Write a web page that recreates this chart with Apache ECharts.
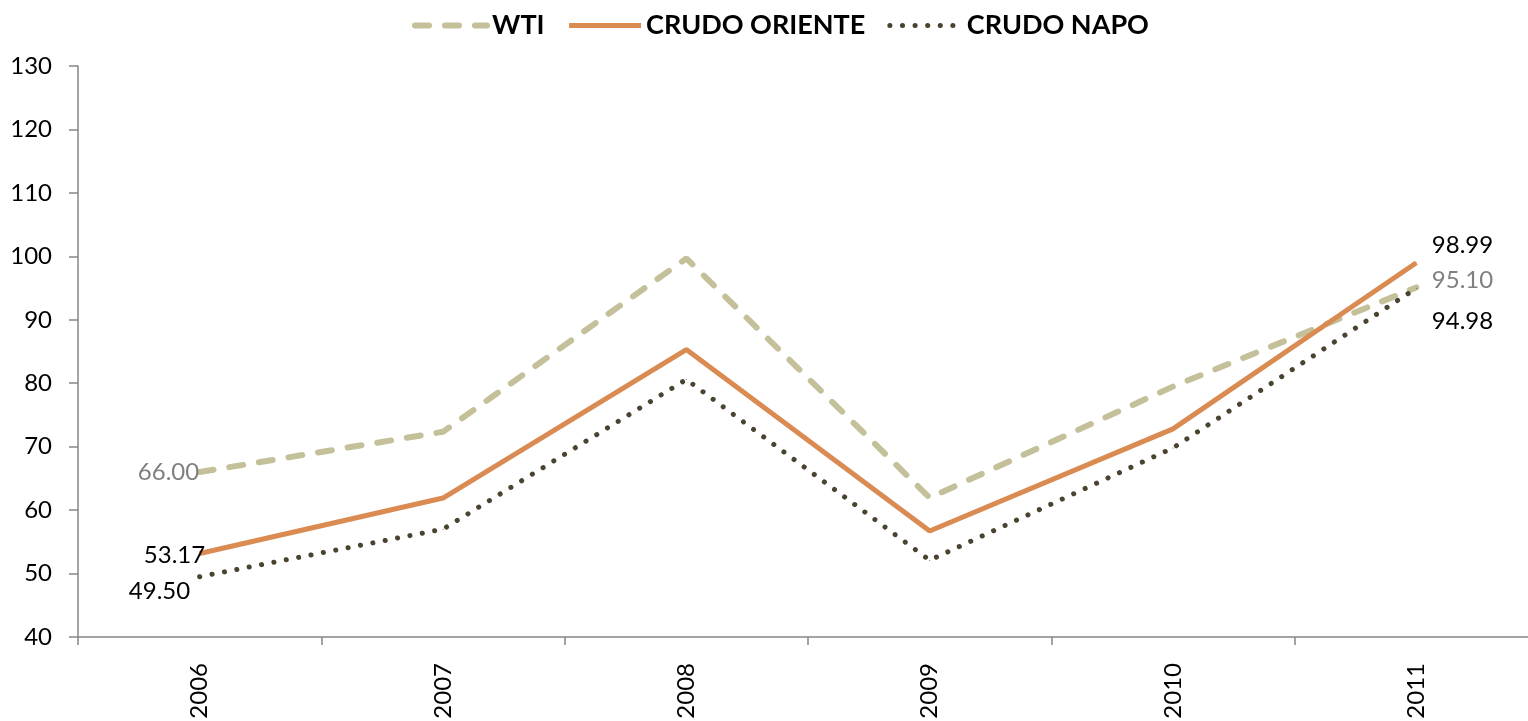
<!DOCTYPE html>
<html>
<head>
<meta charset="utf-8">
<script src="https://cdn.jsdelivr.net/npm/echarts@6/dist/echarts.min.js"></script>
<style>
html, body { margin: 0; padding: 0; background: #fff; }
#main { width: 1528px; height: 721px; }
</style>
</head>
<body>
<div id="main"></div>
<script>
var years = ['2006', '2007', '2008', '2009', '2010', '2011'];
var wti = [66.00, 72.34, 99.67, 61.95, 79.48, 95.10];
var oriente = [53.17, 61.90, 85.30, 56.70, 72.80, 98.99];
var napo = [49.50, 57.00, 80.60, 52.10, 69.80, 94.98];

var myChart = echarts.init(document.getElementById('main'));

// etiquetas solo en primer y ultimo punto
function withLabels(values, color, firstOffset, lastOffset) {
    return values.map(function (v, i) {
        if (i === 0) {
            return { value: v, label: { show: true, position: 'left', distance: 0, offset: firstOffset, color: color } };
        }
        if (i === values.length - 1) {
            return { value: v, label: { show: true, position: 'right', distance: 15, offset: lastOffset, color: color } };
        }
        return v;
    });
}

var labelFont = { fontFamily: 'Lato', fontSize: 24, formatter: function (p) { return p.value.toFixed(2); } };

var option = {
    backgroundColor: '#fff',
    textStyle: { fontFamily: 'Lato' },
    legend: {
        top: 7,
        left: 407,
        itemWidth: 72,
        itemHeight: 14,
        itemGap: 22,
        lineStyle: { width: 'inherit', type: 'inherit', cap: 'inherit' },
        itemStyle: { opacity: 0 },
        textStyle: { fontFamily: 'Lato', fontSize: 27, fontWeight: 'bold', color: '#000', padding: [0, 0, 0, 0] },
        data: ['WTI', 'CRUDO ORIENTE', 'CRUDO NAPO']
    },
    grid: {
        left: 78,
        right: -10,
        top: 66,
        bottom: 84,
        outerBoundsMode: 'none'
    },
    xAxis: {
        type: 'category',
        data: years,
        boundaryGap: true,
        axisLine: { lineStyle: { color: '#868686', width: 1.5 } },
        axisTick: { show: true, length: 8, lineStyle: { color: '#868686', width: 1.5 } },
        axisLabel: { rotate: 90, margin: 26, color: '#000', fontSize: 24, fontFamily: 'Lato' },
        splitLine: { show: false }
    },
    yAxis: {
        type: 'value',
        min: 40,
        max: 130,
        interval: 10,
        axisLine: { show: true, lineStyle: { color: '#868686', width: 1.5 } },
        axisTick: { show: true, length: 9, lineStyle: { color: '#868686', width: 1.5 } },
        axisLabel: { color: '#000', fontSize: 24, fontFamily: 'Lato', margin: 26 },
        splitLine: { show: false }
    },
    series: [
        {
            name: 'WTI',
            type: 'line',
            symbol: 'circle',
            symbolSize: 1,
            itemStyle: { color: '#C4C09A' },
            lineStyle: { color: '#C4C09A', width: 6, type: [14, 16], cap: 'round' },
            label: labelFont,
            data: withLabels(wti, '#808080', [0, 0], [0, -7]),
            z: 1
        },
        {
            name: 'CRUDO ORIENTE',
            type: 'line',
            symbol: 'circle',
            symbolSize: 1,
            itemStyle: { color: '#D98B52' },
            lineStyle: { color: '#D98B52', width: 5 },
            label: labelFont,
            data: withLabels(oriente, '#000', [6, 2], [0, -17]),
            z: 3
        },
        {
            name: 'CRUDO NAPO',
            type: 'line',
            symbol: 'circle',
            symbolSize: 1,
            itemStyle: { color: '#4A4330' },
            lineStyle: { color: '#4A4330', width: 5, type: [0.1, 12.5], cap: 'round' },
            label: labelFont,
            data: withLabels(napo, '#000', [-9, 15], [0, 33]),
            z: 2
        }
    ]
};

myChart.setOption(option);
</script>
</body>
</html>
